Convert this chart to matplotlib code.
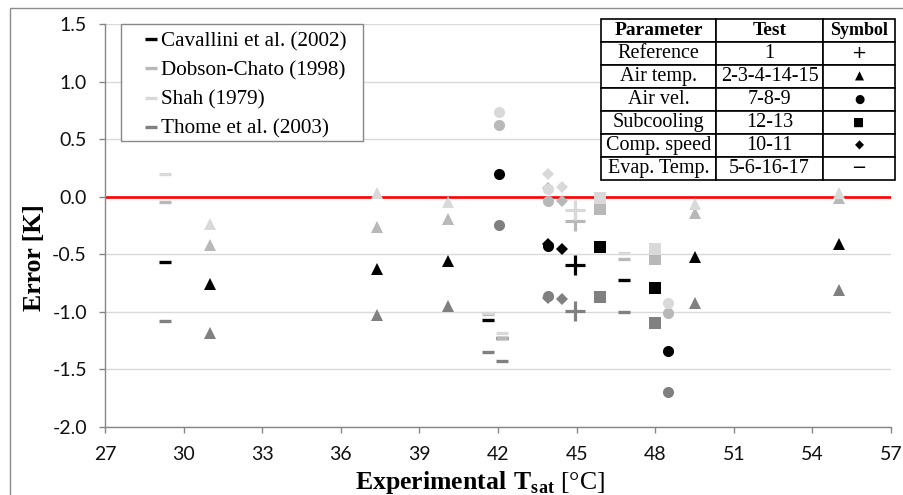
"""
Error de temperatura de saturacion vs Tsat experimental
4 correlaciones, 17 ensayos
"""

import matplotlib
matplotlib.use('Agg')
import matplotlib.pyplot as plt
from matplotlib.lines import Line2D
from matplotlib.patches import Rectangle

plt.rcParams['axes.unicode_minus'] = False
plt.rcParams['mathtext.fontset'] = 'custom'
plt.rcParams['mathtext.rm'] = 'Liberation Serif'
plt.rcParams['mathtext.bf'] = 'Liberation Serif:bold'

# ─── DATOS ───────────────────────────────────────────────────────────────────
t_sat = [29.3, 31.0, 37.4, 40.1, 41.6, 42.15, 42.05, 43.9, 43.9, 44.45,
         44.95, 45.9, 46.8, 48.0, 48.5, 49.5, 55.0]
param = ['evap', 'air_t', 'air_t', 'air_t', 'evap', 'evap', 'air_v', 'air_v',
         'comp', 'comp', 'ref', 'sub', 'evap', 'sub', 'air_v', 'air_t', 'air_t']

err_cavallini = [-0.565, -0.76, -0.63, -0.56, -1.075, -1.23, 0.20, -0.43, -0.41,
                 -0.45, -0.59, -0.44, -0.72, -0.79, -1.34, -0.525, -0.41]
err_dobson = [-0.05, -0.42, -0.26, -0.19, -1.02, -1.23, 0.62, -0.04, 0.08,
              -0.035, -0.21, -0.11, -0.54, -0.54, -1.01, -0.14, -0.015]
err_shah = [0.20, -0.24, 0.03, -0.05, -1.01, -1.18, 0.74, 0.07, 0.20,
            0.085, -0.115, -0.015, -0.49, -0.45, -0.92, -0.06, 0.03]
err_thome = [-1.08, -1.18, -1.03, -0.95, -1.35, -1.43, -0.245, -0.865, -0.88,
             -0.885, -0.99, -0.875, -1.00, -1.095, -1.695, -0.92, -0.81]

series = ['Cavallini et al. (2002)', 'Dobson-Chato (1998)', 'Shah (1979)', 'Thome et al. (2003)']
errores = [err_cavallini, err_dobson, err_shah, err_thome]

tabla_param = ['Reference', 'Air temp.', 'Air vel.', 'Subcooling', 'Comp. speed', 'Evap. Temp.']
tabla_test = ['1', '2-3-4-14-15', '7-8-9', '12-13', '10-11', '5-6-16-17']
tabla_simbolo = ['+', '▲', '●', '■', '◆', '−']

# ─── ESTILO ──────────────────────────────────────────────────────────────────
colores = ['#000000', '#B8B8B8', '#D9D9D9', '#808080']
marcadores = {
    'ref':   dict(marker='+', ms=14, mew=2.3),
    'air_t': dict(marker='^', ms=8.5, mew=0),
    'air_v': dict(marker='o', ms=8, mew=0),
    'sub':   dict(marker='s', ms=8.5, mew=0),
    'comp':  dict(marker='D', ms=5.8, mew=0),
    'evap':  dict(marker='_', ms=8, mew=2.4),
}
zorders = [3, 4, 5, 6]

W, H = 904, 495
def fx(px): return px / W
def fy(py): return 1 - py / H

fig = plt.figure(figsize=(W / 100, H / 100), dpi=100)
ax = fig.add_axes([fx(105), fy(427), fx(891) - fx(105), fy(24) - fy(427)])

# marco exterior
fig.add_artist(Rectangle((fx(10), fy(505)), fx(920) - fx(10), fy(8) - fy(505),
                         transform=fig.transFigure, fill=False,
                         edgecolor='#8c8c8c', lw=1))

for nombre, errs, col, zo in zip(series, errores, colores, zorders):
    for x, y, p in zip(t_sat, errs, param):
        st = marcadores[p]
        ax.plot([x], [y], ls='none', color=col, mfc=col, mec=col,
                zorder=zo, clip_on=False, **st)

ax.axhline(0, color='#FF0000', lw=1.9, zorder=2)

ax.set_xlim(27, 57)
ax.set_ylim(-2.0, 1.5)
ax.set_xticks(range(27, 58, 3))
ax.set_yticks([1.5, 1.0, 0.5, 0.0, -0.5, -1.0, -1.5, -2.0])
ax.set_yticklabels([f'{v:.1f}' for v in [1.5, 1.0, 0.5, 0.0, -0.5, -1.0, -1.5, -2.0]])
ax.yaxis.grid(True, color='#D9D9D9', lw=1)
ax.set_axisbelow(True)
for s in ['top', 'right']:
    ax.spines[s].set_visible(False)
for s in ['left', 'bottom']:
    ax.spines[s].set_color('#868686')
    ax.spines[s].set_linewidth(1)
ax.tick_params(direction='out', length=4, width=1, color='#868686',
               labelsize=14, labelcolor='#111111')
ax.tick_params(axis='y', pad=9)
ax.tick_params(axis='x', pad=10)
for lbl in ax.get_xticklabels() + ax.get_yticklabels():
    lbl.set_fontfamily('Lato')

fig.text(fx(480), fy(483), r'$\mathbf{Experimental\ T}_{\mathbf{sat}}$ [°C]',
         ha='center', va='center', fontsize=18.5, family='Liberation Serif')
fig.text(fx(35), fy(258), 'Error [K]', rotation=90, ha='center', va='center',
         fontsize=18.5, fontweight='bold', family='Liberation Serif')

# ─── LEYENDA ─────────────────────────────────────────────────────────────────
fig.add_artist(Rectangle((fx(121), fy(141)), fx(363) - fx(121), fy(24) - fy(141),
                         transform=fig.transFigure, fill=True, facecolor='white',
                         edgecolor='#888888', lw=1, zorder=8))
handles = [Line2D([], [], color=c, lw=2.4, solid_capstyle='butt') for c in colores]
leg = fig.legend(handles, series, loc='upper left',
                 bbox_to_anchor=(fx(145), fy(32)), frameon=False, borderpad=0,
                 borderaxespad=0, handlelength=0.55, handletextpad=0.2,
                 labelspacing=0.44,
                 prop={'family': 'Liberation Serif', 'size': 15.2})
leg.set_zorder(9)

# ─── TABLA ───────────────────────────────────────────────────────────────────
tax = fig.add_axes([fx(601), fy(180), fx(895) - fx(601), fy(19) - fy(180)])
tax.axis('off')
filas = [[p, t, s] for p, t, s in zip(tabla_param, tabla_test, tabla_simbolo)]
tbl = tax.table(cellText=filas, colLabels=['Parameter', 'Test', 'Symbol'],
                colWidths=[115, 107, 72], cellLoc='center', bbox=[0, 0, 1, 1])
tbl.auto_set_font_size(False)
tbl.set_fontsize(14.5)
for (r, c), cell in tbl.get_celld().items():
    cell.set_linewidth(1.2)
    cell.set_edgecolor('black')
    cell.set_clip_on(False)
    txt = cell.get_text()
    txt.set_fontfamily('Liberation Serif')
    if r == 0:
        txt.set_fontweight('bold')
        txt.set_fontsize(13 if c == 2 else 14)
    elif c == 2:
        txt.set_fontfamily('DejaVu Sans')
        txt.set_fontsize(13 if txt.get_text() in ('+', '−') else 8.5)

fig.savefig('out.png', dpi=100)
